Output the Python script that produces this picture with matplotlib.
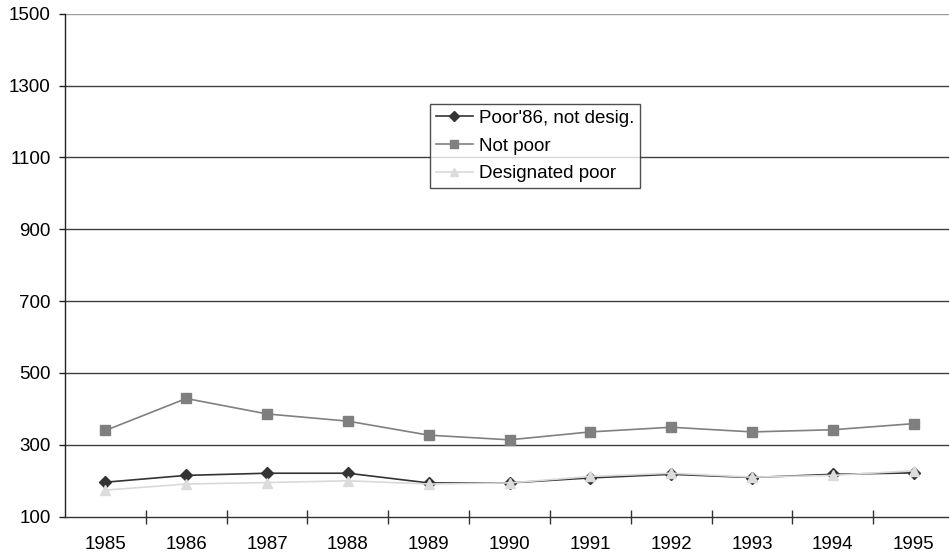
import numpy as np
import matplotlib.pyplot as plt

plt.rcParams['font.family'] = ['Liberation Sans', 'DejaVu Sans']

years = ['1985', '1986', '1987', '1988', '1989', '1990',
         '1991', '1992', '1993', '1994', '1995']
poor86_not_desig = [196, 215, 221, 221, 194, 194, 208, 218, 209, 218, 222]
not_poor = [340, 429, 386, 366, 327, 314, 336, 349, 336, 342, 359]
designated_poor = [174, 191, 195, 200, 191, 194, 212, 221, 210, 215, 228]
y_ticks = [100, 300, 500, 700, 900, 1100, 1300, 1500]

fig = plt.figure(figsize=(9.49, 5.57), dpi=100)
W, H = 949, 557
ax = fig.add_axes([65 / W, (H - 516.7) / H, 889 / W, (516.7 - 13.7) / H])

x = np.arange(len(years))

# gridlines
for v in y_ticks[1:]:
    col = '#9a9a9a' if v == y_ticks[-1] else '#404040'
    ax.axhline(v, color=col, lw=1.0, zorder=1)

ax.plot(x, poor86_not_desig, color='#333333', lw=1.2, marker='D', ms=6,
        mfc='#333333', mec='#333333', label="Poor'86, not desig.", zorder=3)
ax.plot(x, not_poor, color='#808080', lw=1.2, marker='s', ms=6.5,
        mfc='#7f7f7f', mec='#7f7f7f', label='Not poor', zorder=3)
ax.plot(x, designated_poor, color='#d9d9d9', lw=1.2, marker='^', ms=7.5,
        mfc='#dcdcdc', mec='#dcdcdc', label='Designated poor', zorder=4)

ax.set_xlim(-0.5, len(years) - 0.5)
ax.set_ylim(100, 1500)
ax.set_yticks(y_ticks)
ax.set_xticks(x)
ax.set_xticklabels(years)
ax.set_xticks(np.arange(0.5, len(years) - 0.5, 1.0), minor=True)

for s in ['top', 'right']:
    ax.spines[s].set_visible(False)
ax.spines['left'].set_color('#222222')
ax.spines['bottom'].set_color('#333333')
ax.spines['left'].set_linewidth(1.0)
ax.spines['bottom'].set_linewidth(1.0)

ax.tick_params(axis='y', direction='out', length=4.3, width=1, color='#222222',
               labelsize=13.5, pad=6)
ax.tick_params(axis='x', which='major', length=0, labelsize=13.5, pad=14)
ax.tick_params(axis='x', which='minor', direction='inout', length=9.4, width=1,
               color='#333333')

leg = ax.legend(loc='upper left', bbox_to_anchor=(430 / W, (H - 104.0) / H),
                bbox_transform=fig.transFigure, frameon=True, fancybox=False,
                fontsize=13.5, handlelength=2.0, handletextpad=0.3,
                borderpad=0.3, labelspacing=0.57, borderaxespad=0)
leg.get_frame().set_edgecolor('#222222')
leg.get_frame().set_linewidth(1.0)
for h in leg.legend_handles:
    h.set_markersize(5.5)

fig.savefig('out.png', dpi=100)
